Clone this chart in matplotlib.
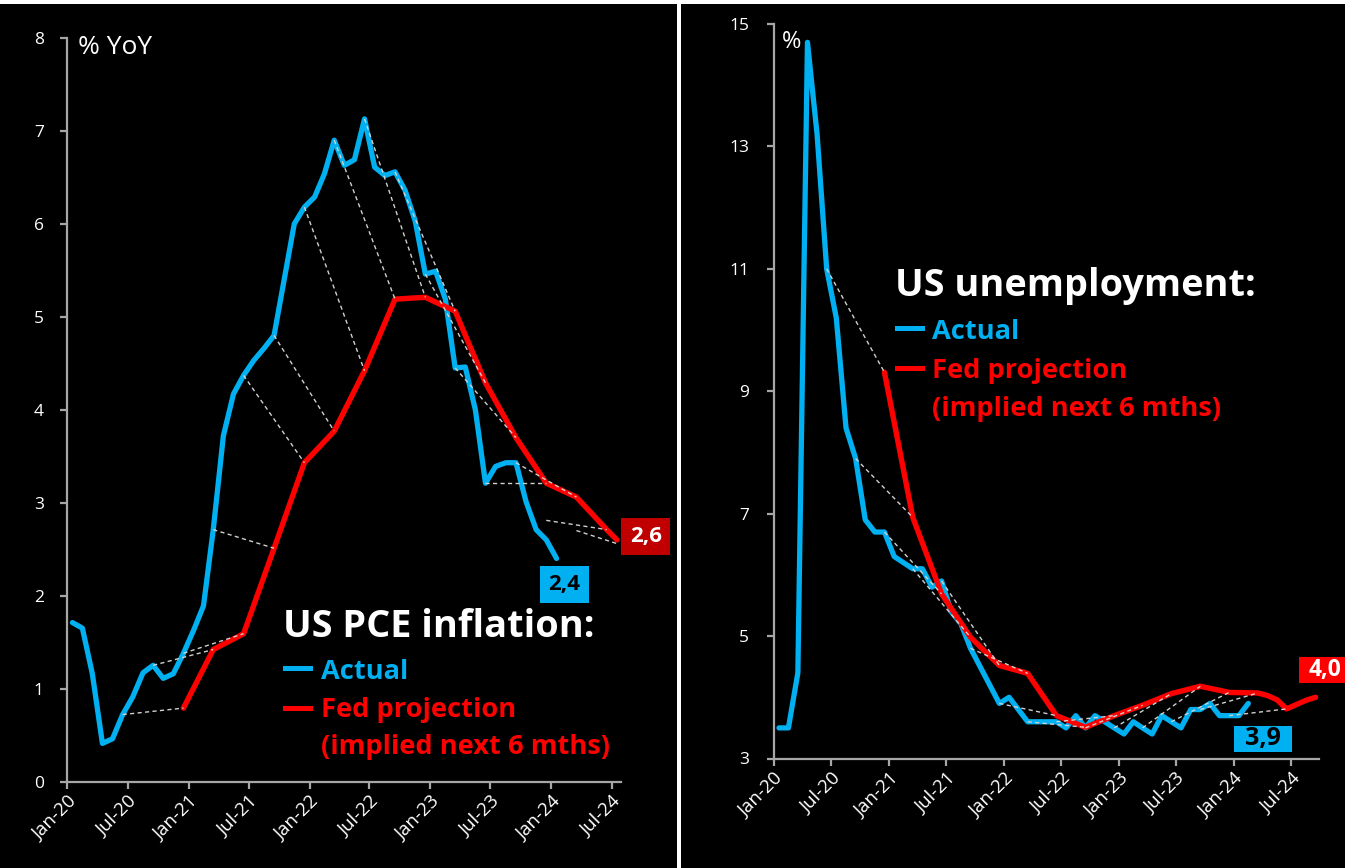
import numpy as np
import pandas as pd
import matplotlib
matplotlib.use("Agg")
import matplotlib.pyplot as plt
import matplotlib.dates as mdates
from matplotlib.lines import Line2D
from matplotlib.patches import Rectangle
from matplotlib.transforms import Affine2D, ScaledTranslation

# ---------------- data ----------------
pce_first_month = "2020-01"
pce_actual = [1.71, 1.65, 1.16, 0.41, 0.46, 0.72, 0.91, 1.17, 1.25, 1.11, 1.16, 1.38,
              1.63, 1.89, 2.71, 3.72, 4.17, 4.37, 4.53, 4.66, 4.80, 5.40, 6.00, 6.18,
              6.29, 6.54, 6.90, 6.63, 6.69, 7.13, 6.61, 6.52, 6.56, 6.36, 6.03, 5.46,
              5.49, 5.19, 4.45, 4.46, 4.00, 3.21, 3.39, 3.43, 3.43, 3.01, 2.71, 2.60,
              2.40]
pce_proj_months = ["2020-12", "2021-03", "2021-06", "2021-09", "2021-12", "2022-03",
                   "2022-06", "2022-09", "2022-12", "2023-03", "2023-06", "2023-09",
                   "2023-12", "2024-03", "2024-06", "2024-07"]
pce_proj = [0.79, 1.42, 1.59, 2.51, 3.43, 3.77, 4.42, 5.19, 5.21, 5.06, 4.29, 3.70,
            3.21, 3.06, 2.71, 2.60]
# month of the actual reading; each link runs to the projection six months on
pce_link_months = ["2020-06", "2020-09", "2020-12", "2021-03", "2021-06", "2021-09",
                   "2021-12", "2022-03", "2022-06", "2022-09", "2022-12", "2023-03",
                   "2023-06", "2023-09"]
pce_extra_links = [("2023-12", 2.81, "2024-06", 2.71),
                   ("2024-03", 2.70, "2024-07", 2.56)]

unemp_first_month = "2020-01"
unemp_actual = [3.5, 3.5, 4.4, 14.7, 13.2, 11.0, 10.2, 8.4, 7.9, 6.9, 6.7, 6.7,
                6.3, 6.2, 6.1, 6.1, 5.8, 5.9, 5.4, 5.2, 4.8, 4.5, 4.2, 3.9,
                4.0, 3.8, 3.6, 3.6, 3.6, 3.6, 3.5, 3.7, 3.5, 3.7, 3.6, 3.5,
                3.4, 3.6, 3.5, 3.4, 3.7, 3.6, 3.5, 3.8, 3.8, 3.9, 3.7, 3.7,
                3.7, 3.9]
unemp_proj_months = ["2020-12", "2021-03", "2021-06", "2021-09", "2021-12", "2022-03",
                     "2022-06", "2022-09", "2022-12", "2023-03", "2023-06", "2023-09",
                     "2023-12", "2024-03", "2024-04", "2024-05", "2024-06", "2024-07",
                     "2024-08", "2024-09"]
unemp_proj = [9.31, 6.94, 5.69, 4.98, 4.52, 4.39, 3.70, 3.51, 3.70, 3.87, 4.06, 4.18,
              4.08, 4.07, 4.03, 3.96, 3.81, 3.88, 3.95, 4.0]
unemp_link_months = ["2020-06", "2020-09", "2020-12", "2021-03", "2021-06", "2021-09",
                     "2021-12", "2022-03", "2022-06", "2022-09", "2022-12", "2023-03",
                     "2023-06", "2023-09", "2023-12"]

# ---------------- style ----------------
W, H = 1345, 868
BLUE = "#00B0F0"
RED = "#FF0000"
DARKRED = "#C00000"
AXIS = "#A6A6A6"
LINK = "#D0D0D0"
FONT = "Open Sans"
plt.rcParams["font.family"] = [FONT, "DejaVu Sans"]


def mid(month):
    p = pd.Period(month, "M")
    return p.start_time + pd.Timedelta(days=p.days_in_month / 2)


def series_dates(first, n):
    return [mid(str(p)) for p in pd.period_range(first, periods=n, freq="M")]


def shift(month, n):
    return str(pd.Period(month, "M") + n)


def fx(px):
    return px / W


def fy(py):
    return 1 - py / H


fig = plt.figure(figsize=(W / 100, H / 100), dpi=100, facecolor="black")


def style_axes(ax, yticks, ylim, xmax, ypad):
    ax.set_facecolor("black")
    for s in ("top", "right"):
        ax.spines[s].set_visible(False)
    for s in ("left", "bottom"):
        ax.spines[s].set_color(AXIS)
        ax.spines[s].set_linewidth(1.6)
    ax.set_ylim(*ylim)
    ax.set_yticks(yticks)
    ax.set_xlim(pd.Timestamp("2020-01-01"), pd.Timestamp(xmax))
    ax.set_xticks(pd.date_range("2020-01-01", "2024-07-01", freq="6MS"))
    ax.xaxis.set_major_formatter(mdates.DateFormatter("%b-%y"))
    ax.tick_params(axis="both", direction="out", length=5, width=1.6, color=AXIS,
                   labelcolor="white")
    ax.tick_params(axis="y", pad=ypad, labelsize=12.5)
    ax.tick_params(axis="x", pad=3, labelsize=13.5)
    for lab in ax.get_xticklabels():
        lab.set_rotation(45)
        lab.set_ha("right")
        lab.set_va("top")
        lab.set_rotation_mode("anchor")


def draw_panel(ax, first, actual, proj_months, proj, link_months, extra_links):
    ad = series_dates(first, len(actual))
    pd_ = [mid(m) for m in proj_months]
    ax.plot(ad, actual, color=BLUE, lw=3.8, solid_joinstyle="round",
            solid_capstyle="round", zorder=3)
    ax.plot(pd_, proj, color=RED, lw=3.9, solid_joinstyle="round",
            solid_capstyle="round", zorder=3)
    amap = {str(p): v for p, v in zip(pd.period_range(first, periods=len(actual), freq="M"), actual)}
    pmap = dict(zip(proj_months, proj))
    links = [(m, amap[m], shift(m, 6), pmap[shift(m, 6)]) for m in link_months]
    links += list(extra_links)
    for m0, v0, m1, v1 in links:
        ax.plot([mid(m0), mid(m1)], [v0, v1], color=LINK, lw=1.0,
                dashes=(3.0, 2.4), zorder=4)
    return ad, pd_


def value_tag(ax, when, value, text, fc, tc, dx, dy, w, h, fs):
    # box and label are placed in pixel offsets from the data point
    tr = Affine2D() + ScaledTranslation(mdates.date2num(when), value, ax.transData)
    rect = Rectangle((dx - w / 2, dy - h / 2), w, h, transform=tr, facecolor=fc,
                     edgecolor="none", zorder=6, clip_on=False)
    ax.add_artist(rect)
    ax.text(dx, dy, text, transform=tr, color=tc, fontsize=fs, fontweight="bold",
            ha="center", va="center", zorder=7, clip_on=False)


# ---------------- left panel: PCE inflation ----------------
ax1 = fig.add_axes([fx(67.3), fy(781.5), fx(621) - fx(67.3), (781.5 - 38) / H])
style_axes(ax1, range(0, 9), (0, 8), "2024-07-29", 12)
draw_panel(ax1, pce_first_month, pce_actual, pce_proj_months, pce_proj,
           pce_link_months, pce_extra_links)
value_tag(ax1, mid(pce_proj_months[-1]), pce_proj[-1], "2,6", DARKRED, "white",
          29, 3.5, 49, 37, 16)
last1 = series_dates(pce_first_month, len(pce_actual))[-1]
value_tag(ax1, last1, pce_actual[-1], "2,4", BLUE, "black", 8, -26.4, 49, 37, 16)

# ---------------- right panel: unemployment ----------------
ax2 = fig.add_axes([fx(774.1), fy(758.5), fx(1319) - fx(774.1), (758.5 - 24) / H])
style_axes(ax2, range(3, 16, 2), (3, 15), "2024-09-27", 13)
draw_panel(ax2, unemp_first_month, unemp_actual, unemp_proj_months, unemp_proj,
           unemp_link_months, [])
value_tag(ax2, mid(unemp_proj_months[-1]), unemp_proj[-1], "4,0", RED, "white",
          9, 27, 51, 26, 16.5)
last2 = series_dates(unemp_first_month, len(unemp_actual))[-1]
value_tag(ax2, last2, unemp_actual[-1], "3,9", BLUE, "black", 14.3, -35.2, 58, 26, 18)

# ---------------- text ----------------
fig.text(fx(78), fy(47), "% YoY", color="white", fontsize=19, ha="left", va="center")
fig.text(fx(782), fy(42), "%", color="white", fontsize=17, ha="left", va="center")


def key_block(x_bar, x_text, title_y, title, rows):
    fig.text(fx(x_bar - 2), fy(title_y), title, color="white", fontsize=27.3,
             fontweight="bold", ha="left", va="baseline")
    for text, color, y, bar_y in rows:
        if bar_y is not None:
            fig.add_artist(Line2D([fx(x_bar), fx(x_bar + 25)], [fy(bar_y), fy(bar_y)],
                                  color=color, lw=3.6, transform=fig.transFigure))
        fig.text(fx(x_text), fy(y), text, color=color, fontsize=19.6,
                 fontweight="bold", ha="left", va="baseline")


key_block(285, 321, 637, "US PCE inflation:",
          [("Actual", BLUE, 679, 668),
           ("Fed projection", RED, 717, 708),
           ("(implied next 6 mths)", RED, 754, None)])
key_block(897, 932, 296, "US unemployment:",
          [("Actual", BLUE, 339, 328),
           ("Fed projection", RED, 378, 368),
           ("(implied next 6 mths)", RED, 416, None)])

# frame lines
fig.add_artist(Rectangle((0, fy(4)), 1, 4 / H, transform=fig.transFigure,
                         facecolor="white", edgecolor="none"))
fig.add_artist(Rectangle((fx(677), 0), 4 / W, 1, transform=fig.transFigure,
                         facecolor="white", edgecolor="none"))

fig.savefig("out.png", dpi=100, facecolor="black")
